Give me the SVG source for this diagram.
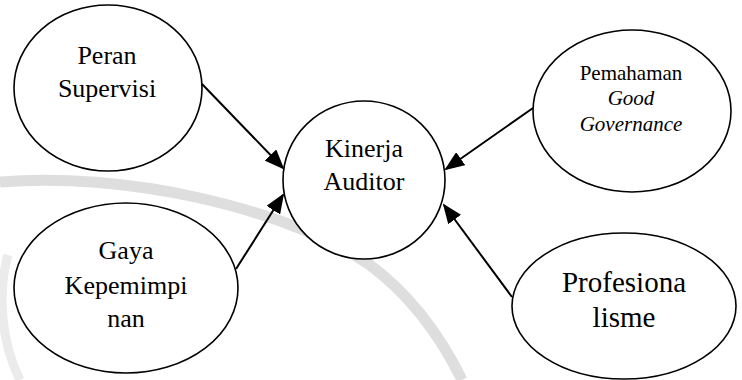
<svg xmlns="http://www.w3.org/2000/svg" width="742" height="380" viewBox="0 0 742 380">
<style>
.node ellipse{fill:#ffffff;stroke:#000000;stroke-width:1.6}
.node text{font-family:'Liberation Serif','Times New Roman',serif;fill:#000000;text-anchor:middle}
.edge{stroke:#000000;stroke-width:2;fill:none;marker-end:url(#ah)}
.wm{fill:none;stroke:#dedede;stroke-width:11}
</style>
<defs>
<marker id="ah" markerWidth="10" markerHeight="8" refX="9" refY="4" orient="auto" markerUnits="strokeWidth">
<path d="M0,0 L10,4 L0,8 Z" fill="#000000"/>
</marker>
</defs>
<rect width="742" height="380" fill="#ffffff"/>
<g id="watermark">
<path class="wm" d="M0,182 C120,172 280,205 370,265 C410,295 440,335 462,380"/>
<path class="wm" d="M8,255 C-2,290 0,340 20,380" style="stroke:#ebebeb;stroke-width:9"/>
</g>
<g id="connectors">
<line class="edge" x1="202" y1="84" x2="283" y2="168"/>
<line class="edge" x1="236" y1="269" x2="283" y2="195"/>
<line class="edge" x1="533" y1="108" x2="446" y2="169"/>
<line class="edge" x1="512" y1="297" x2="444" y2="205"/>
</g>
<g id="node-peran" class="node">
<ellipse cx="108" cy="88" rx="94" ry="83"/>
<text x="107" y="64" font-family="Liberation Serif" font-size="26">Peran</text>
<text x="107" y="97" font-family="Liberation Serif" font-size="26">Supervisi</text>
</g>
<g id="node-kinerja" class="node">
<ellipse cx="364" cy="180" rx="81" ry="79"/>
<text x="364" y="157" font-family="Liberation Serif" font-size="26">Kinerja</text>
<text x="364" y="190" font-family="Liberation Serif" font-size="26">Auditor</text>
</g>
<g id="node-pemahaman" class="node">
<ellipse cx="632" cy="111" rx="99" ry="81"/>
<text x="631" y="80" font-family="Liberation Serif" font-size="21">Pemahaman</text>
<text x="631" y="105" font-family="Liberation Serif" font-size="21" font-style="italic">Good</text>
<text x="631" y="131" font-family="Liberation Serif" font-size="21" font-style="italic">Governance</text>
</g>
<g id="node-gaya" class="node">
<ellipse cx="126" cy="288" rx="112" ry="85"/>
<text x="126" y="259" font-family="Liberation Serif" font-size="26">Gaya</text>
<text x="126" y="294" font-family="Liberation Serif" font-size="26">Kepemimpi</text>
<text x="126" y="327" font-family="Liberation Serif" font-size="26">nan</text>
</g>
<g id="node-profesionalisme" class="node">
<ellipse cx="624" cy="306" rx="112" ry="73"/>
<text x="624" y="292" font-family="Liberation Serif" font-size="29">Profesiona</text>
<text x="624" y="327" font-family="Liberation Serif" font-size="29">lisme</text>
</g>
</svg>
